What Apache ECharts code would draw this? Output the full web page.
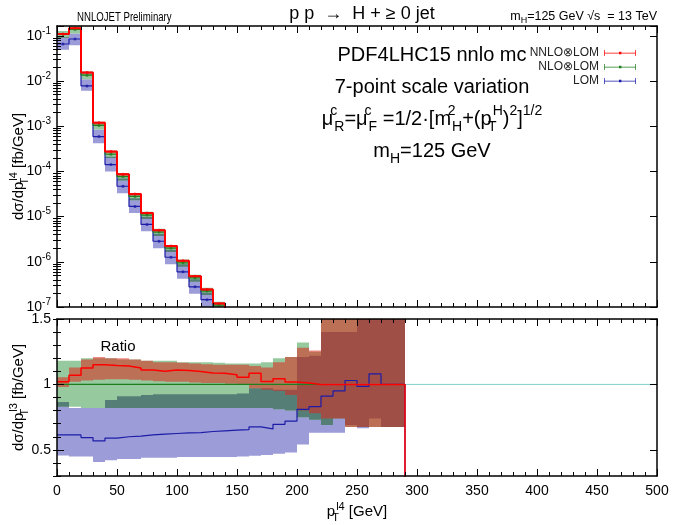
<!DOCTYPE html>
<html>
<head>
<meta charset="utf-8">
<script src="https://cdn.jsdelivr.net/npm/echarts@6/dist/echarts.min.js"></script>
<style>
  html, body { margin: 0; padding: 0; background: #fff; }
  #chart { width: 675px; height: 525px; }
</style>
</head>
<body>
<div id="chart"></div>
<script>
// ---- data ----
// upper panel: bins in pT (GeV)
const binEdgesTop = [0, 10, 20, 30, 40, 50, 60, 70, 80, 90, 100, 110, 120, 130, 140];
const nnloTop   = [0.110, 0.148, 0.0154, 1.2e-3, 2.75e-4, 8.7e-5, 3.15e-5, 1.2e-5, 5.0e-6, 2.23e-6, 1.05e-6, 4.8e-7, 2.45e-7, 1.2e-7];
const nnloTopLo = [0.106, 0.141, 0.0139, 1.08e-3, 2.5e-4, 8.0e-5, 2.9e-5, 1.11e-5, 4.66e-6, 2.04e-6, 9.7e-7, 4.47e-7, 2.27e-7, 1.11e-7];
const nnloTopHi = [0.114, 0.156, 0.0161, 1.26e-3, 2.88e-4, 9.2e-5, 3.33e-5, 1.27e-5, 5.32e-6, 2.34e-6, 1.1e-6, 5.1e-7, 2.6e-7, 1.27e-7];
const nloTop    = [0.108, 0.138, 0.0135, 1.04e-3, 2.4e-4, 7.7e-5, 2.8e-5, 1.08e-5, 4.55e-6, 2.0e-6, 9.5e-7, 4.4e-7, 2.25e-7, 1.1e-7];
const nloTopLo  = [0.089, 0.113, 0.0110, 8.5e-4, 1.97e-4, 6.3e-5, 2.3e-5, 8.9e-6, 3.7e-6, 1.64e-6, 7.8e-7, 3.6e-7, 1.85e-7, 9.0e-8];
const nloTopHi  = [0.128, 0.164, 0.0162, 1.25e-3, 2.87e-4, 9.1e-5, 3.3e-5, 1.28e-5, 5.4e-6, 2.36e-6, 1.12e-6, 5.2e-7, 2.65e-7, 1.3e-7];
const loTop     = [0.066, 0.085, 0.0078, 5.9e-4, 1.42e-4, 4.7e-5, 1.68e-5, 6.7e-6, 2.85e-6, 1.26e-6, 6.0e-7, 2.8e-7, 1.45e-7, 7.0e-8];
const loTopLo   = [0.049, 0.062, 0.0061, 4.2e-4, 1.0e-4, 3.3e-5, 1.2e-5, 4.75e-6, 2.0e-6, 8.8e-7, 4.2e-7, 1.96e-7, 1.0e-7, 4.9e-8];
const loTopHi   = [0.093, 0.113, 0.0110, 8.5e-4, 2.1e-4, 7.0e-5, 2.55e-5, 9.9e-6, 4.2e-6, 1.85e-6, 8.8e-7, 4.1e-7, 2.1e-7, 1.02e-7];

// lower panel: ratio to NLO
const binEdgesRatio = [0, 10, 20, 30, 40, 50, 60, 70, 80, 90, 100, 110, 120, 130, 140, 150,
  160, 170, 180, 190, 200, 210, 220, 230, 240, 250, 260, 270, 280, 290];
const nnloRatio   = [1.02, 1.07, 1.126, 1.15, 1.144, 1.14, 1.126, 1.11, 1.10, 1.11, 1.106, 1.098, 1.088, 1.086, 1.073,
  1.055, 1.086, 1.023, 1.043, 1.018, 1.01, 1.0, 1.0, 1.0, 1.0, 1.0, 1.0, 1.0, 1.0];
const nnloRatioLo = [0.98, 1.02, 1.03, 1.035, 1.04, 1.04, 1.035, 1.03, 1.025, 1.02, 1.02, 1.015, 1.01, 1.01, 1.005,
  1.0, 0.97, 0.96, 0.95, 0.92, 0.80, 0.78, 0.74, 0.74, 0.675, 0.675, 0.675, 0.675, 0.675];
const nnloRatioHi = [1.055, 1.13, 1.19, 1.21, 1.2, 1.2, 1.19, 1.18, 1.17, 1.17, 1.165, 1.16, 1.155, 1.15, 1.15,
  1.15, 1.14, 1.13, 1.17, 1.21, 1.28, 1.26, 1.6, 1.6, 1.6, 1.6, 1.6, 1.6, 1.6];
const nloRatio    = [1, 1, 1, 1, 1, 1, 1, 1, 1, 1, 1, 1, 1, 1, 1, 1, 1, 1, 1, 1, 1, 1];
const nloRatioLo  = [0.83, 0.83, 0.82, 0.82, 0.82, 0.82, 0.82, 0.82, 0.82, 0.82, 0.82, 0.82, 0.82, 0.82, 0.82,
  0.82, 0.82, 0.82, 0.81, 0.80, 0.75, 0.73, 0.69, 0.74, 0.675, 0.675, 0.675, 0.675, 0.675];
const nloRatioHi  = [1.18, 1.18, 1.2, 1.2, 1.2, 1.19, 1.19, 1.18, 1.18, 1.18, 1.17, 1.17, 1.17, 1.165, 1.16,
  1.16, 1.16, 1.17, 1.2, 1.21, 1.32, 1.25, 1.6, 1.6, 1.6, 1.6, 1.6, 1.6, 1.6];
const loRatio     = [0.614, 0.614, 0.594, 0.568, 0.59, 0.60, 0.605, 0.614, 0.62, 0.625, 0.63, 0.632, 0.64, 0.645, 0.65,
  0.655, 0.675, 0.66, 0.695, 0.72, 0.81, 0.83, 0.91, 0.95, 1.03, 0.985, 1.08, 1.0, 1.0];
const loRatioLo   = [0.457, 0.45, 0.45, 0.407, 0.42, 0.43, 0.43, 0.44, 0.44, 0.44, 0.445, 0.445, 0.445, 0.445, 0.445,
  0.45, 0.455, 0.46, 0.47, 0.48, 0.54, 0.63, 0.63, 0.63, 0.69, 0.665, 0.74, 0.675, 0.675];
const loRatioHi   = [0.866, 0.82, 0.82, 0.82, 0.88, 0.91, 0.91, 0.92, 0.925, 0.925, 0.925, 0.925, 0.925, 0.925, 0.925,
  0.93, 0.97, 0.97, 0.96, 0.96, 1.21, 1.22, 1.4, 1.4, 1.4, 1.6, 1.6, 1.6, 1.6];

const logTickLabels = [1e-7, 1e-6, 1e-5, 1e-4, 1e-3, 1e-2, 1e-1];
const ratioTickLabels = [0.5, 1, 1.5];
const legendNames = ['NNLO\u2297LOM', 'NLO\u2297LOM', 'LOM'];

// ---- styling ----
const F = 'Liberation Sans, Arial, sans-serif';
const RED = '#ff0000', GREEN = '#1f7f1f', BLUE = '#1c1ca8';
const RED_BAND = 'rgba(220,40,30,0.55)';
const GREEN_BAND = '#96c99e';
const BLUE_BAND = '#9c9cd8';
const OVERLAP_BAND = '#557f76';   // where the LO and NLO bands overlap
const TOP_MAX = 0.165;

// minor tick positions for the log axis (in log10 space)
const minorLog = [];
for (let d = -7; d <= -1; d++) {
  for (let k = 2; k <= 9; k++) {
    const l = Math.log10(k) + d;
    if (l < Math.log10(TOP_MAX)) minorLog.push(l);
  }
}
const ratioMinor = [];
for (let v = 3; v <= 15; v++) ratioMinor.push(v / 10);

// common part of two bands, bin by bin
function overlap(loA, hiA, loB, hiB) {
  const lo = [], hi = [];
  loA.forEach((v, i) => {
    const l = Math.max(loA[i], loB[i]);
    const h = Math.min(hiA[i], hiB[i]);
    lo.push(l);
    hi.push(Math.max(l, h));
  });
  return [lo, hi];
}
const [ovTopLo, ovTopHi] = overlap(loTopLo, loTopHi, nloTopLo, nloTopHi);
const [ovRatioLo, ovRatioHi] = overlap(loRatioLo, loRatioHi, nloRatioLo, nloRatioHi);

const rich = {
  b:   { fontSize: 15, fontFamily: F, color: '#000', lineHeight: 22 },
  sb:  { fontSize: 11, fontFamily: F, color: '#000', lineHeight: 10, verticalAlign: 'bottom' },
  sb0: { fontSize: 11, fontFamily: F, color: '#000', lineHeight: 10, verticalAlign: 'bottom', width: 1 },
  sp:  { fontSize: 11, fontFamily: F, color: '#000', lineHeight: 10, verticalAlign: 'top' }
};

function bandSeries(edges, lo, hi, color, xi, yi) {
  const items = lo.map((v, i) => [edges[i], edges[i + 1], lo[i], hi[i]]);
  return {
    type: 'custom', xAxisIndex: xi, yAxisIndex: yi, silent: true,
    data: items,
    encode: { x: [0, 1], y: [2, 3] },
    renderItem(params, api) {
      if (params.dataIndex !== 0) return null;
      const up = [], dn = [];
      items.forEach(d => {
        up.push(api.coord([d[0], d[3]]), api.coord([d[1], d[3]]));
        dn.push(api.coord([d[0], d[2]]), api.coord([d[1], d[2]]));
      });
      const cs = params.coordSys;
      return {
        type: 'polygon',
        shape: { points: up.concat(dn.reverse()) },
        style: { fill: color },
        clipPath: { type: 'rect', shape: { x: cs.x, y: cs.y, width: cs.width, height: cs.height } }
      };
    }
  };
}

function stepSeries(name, edges, vals, color, width, xi, yi, drop) {
  const pts = vals.map((v, i) => [edges[i], v]);
  pts.push([edges[vals.length], vals[vals.length - 1]]);
  if (drop != null) pts.push([edges[vals.length], drop]);
  return {
    name, type: 'line', step: 'end', xAxisIndex: xi, yAxisIndex: yi,
    data: pts, showSymbol: false, symbol: 'none', silent: true,
    itemStyle: { color }, lineStyle: { color, width }
  };
}

function dotSeries(edges, vals, color) {
  return {
    type: 'scatter', xAxisIndex: 0, yAxisIndex: 0, silent: true,
    symbolSize: 3, itemStyle: { color },
    data: vals.map((v, i) => [(edges[i] + edges[i + 1]) / 2, v])
  };
}

const xBase = (grid, pos, labels) => ({
  type: 'value', gridIndex: grid, position: pos, min: 0, max: 500, interval: 50, z: 5,
  splitLine: { show: false },
  axisLine: { onZero: false, lineStyle: { color: '#000', width: 1.5 } },
  axisTick: { inside: true, length: 7, lineStyle: { color: '#000' } },
  minorTick: { show: true, splitNumber: 5, length: 4, lineStyle: { color: '#000' } },
  axisLabel: { show: labels, color: '#000', fontSize: 14, fontFamily: F, margin: 8 }
});

const logMajor = pos => ({
  type: 'log', gridIndex: 0, position: pos, min: 1e-7, max: TOP_MAX, z: 5,
  splitLine: { show: false }, minorTick: { show: false },
  axisLine: { onZero: false, lineStyle: { color: '#000', width: 1.5 } },
  axisTick: { inside: true, length: 7, lineStyle: { color: '#000' } },
  axisLabel: { show: false }
});
const logMinor = pos => ({
  type: 'value', gridIndex: 0, position: pos, min: -7, max: Math.log10(TOP_MAX), z: 5,
  splitLine: { show: false }, axisLine: { show: false },
  axisTick: { inside: true, length: 4, customValues: minorLog, lineStyle: { color: '#000' } },
  axisLabel: { show: false }
});
const ratioMajor = pos => ({
  type: 'value', gridIndex: 1, position: pos, min: 0.3, max: 1.5, z: 5,
  splitLine: { show: false },
  axisLine: { onZero: false, lineStyle: { color: '#000', width: 1.5 } },
  axisTick: { inside: true, length: 7, customValues: ratioTickLabels, lineStyle: { color: '#000' } },
  axisLabel: { show: false }
});
const ratioMinorAxis = pos => ({
  type: 'value', gridIndex: 1, position: pos, min: 0.3, max: 1.5, z: 5,
  splitLine: { show: false }, axisLine: { show: false },
  axisTick: { inside: true, length: 4, customValues: ratioMinor, lineStyle: { color: '#000' } },
  axisLabel: { show: false }
});

const yTop = logMajor('left');
yTop.axisLabel = {
  show: true, color: '#000', margin: 6,
  formatter: v => {
    const e = Math.log10(v);
    if (Math.abs(e - Math.round(e)) > 0.01) return '';
    return '{b|10}{sp|' + Math.round(e) + '}';
  },
  rich: { b: { fontSize: 14, fontFamily: F, color: '#000', lineHeight: 20 },
          sp: { fontSize: 10, fontFamily: F, color: '#000', lineHeight: 10, verticalAlign: 'top' } }
};
Object.assign(yTop, {
  name: '{b|d\u03c3/dp}{sb0|T}{sp|l4}{b| [fb/GeV]}',
  nameLocation: 'middle', nameRotate: 90, nameGap: 27, nameMoveOverlap: false,
  nameTextStyle: { rich }
});

const yRatio = ratioMajor('left');
yRatio.axisLabel = { show: true, customValues: ratioTickLabels, color: '#000', fontSize: 14, fontFamily: F, margin: 6 };
Object.assign(yRatio, {
  name: '{b|d\u03c3/dp}{sb0|T}{sp|l3}{b| [fb/GeV]}',
  nameLocation: 'middle', nameRotate: 90, nameGap: 27, nameMoveOverlap: false,
  nameTextStyle: { rich }
});

const xBottom = xBase(1, 'bottom', true);
Object.assign(xBottom, {
  name: '{b|p}{sb0|T}{sp|l4}{b| [GeV]}',
  nameLocation: 'middle', nameGap: 25, nameMoveOverlap: false,
  nameTextStyle: { rich }
});

const option = {
  animation: false,
  backgroundColor: '#fff',
  grid: [
    { left: 57, right: 18, top: 26, height: 281, outerBoundsMode: 'none', containLabel: false },
    { left: 57, right: 18, top: 319, height: 157, outerBoundsMode: 'none', containLabel: false }
  ],
  xAxis: [xBase(0, 'bottom', false), xBase(0, 'top', false), xBottom, xBase(1, 'top', false)],
  yAxis: [yTop, logMinor('left'), logMajor('right'), logMinor('right'),
          yRatio, ratioMinorAxis('left'), ratioMajor('right'), ratioMinorAxis('right')],
  legend: {
    data: legendNames, orient: 'vertical', right: 34, top: 42, align: 'right',
    itemWidth: 32, itemHeight: 7, itemGap: 2, selectedMode: false,
    icon: 'path://M0,0.5h0.7v6h-0.7zM31.3,0.5h0.7v6h-0.7zM0,3.2h32v0.7h-32zM15,2.3h2.4v2.4h-2.4z',
    textStyle: { fontSize: 12, fontFamily: F, color: '#222' }
  },
  series: [
    // upper panel
    bandSeries(binEdgesTop, loTopLo, loTopHi, BLUE_BAND, 0, 0),
    bandSeries(binEdgesTop, nloTopLo, nloTopHi, GREEN_BAND, 0, 0),
    bandSeries(binEdgesTop, ovTopLo, ovTopHi, OVERLAP_BAND, 0, 0),
    stepSeries(legendNames[2], binEdgesTop, loTop, BLUE, 1.2, 0, 0, 1e-9),
    stepSeries(legendNames[1], binEdgesTop, nloTop, GREEN, 1.2, 0, 0, 1e-9),
    bandSeries(binEdgesTop, nnloTopLo, nnloTopHi, RED_BAND, 0, 0),
    stepSeries(legendNames[0], binEdgesTop, nnloTop, RED, 2, 0, 0, 1e-9),
    dotSeries(binEdgesTop, loTop, BLUE),
    dotSeries(binEdgesTop, nloTop, GREEN),
    dotSeries(binEdgesTop, nnloTop, RED),
    // lower panel
    { type: 'line', xAxisIndex: 2, yAxisIndex: 4, data: [[0, 1], [500, 1]], symbol: 'none', silent: true,
      lineStyle: { color: '#7fd0d0', width: 1 } },
    bandSeries(binEdgesRatio, loRatioLo, loRatioHi, BLUE_BAND, 2, 4),
    bandSeries(binEdgesRatio, nloRatioLo, nloRatioHi, GREEN_BAND, 2, 4),
    bandSeries(binEdgesRatio, ovRatioLo, ovRatioHi, OVERLAP_BAND, 2, 4),
    stepSeries(null, binEdgesRatio, loRatio, BLUE, 1.2, 2, 4, 0),
    stepSeries(null, binEdgesRatio, nloRatio, GREEN, 1.2, 2, 4, null),
    bandSeries(binEdgesRatio, nnloRatioLo, nnloRatioHi, RED_BAND, 2, 4),
    stepSeries(null, binEdgesRatio, nnloRatio, RED, 1.5, 2, 4, 0)
  ],
  graphic: [
    { type: 'text', x: 77, y: 17, scaleX: 0.74, style: { text: 'NNLOJET Preliminary', fontSize: 13, fontFamily: F, fill: '#000', verticalAlign: 'middle' } },
    { type: 'text', x: 362, y: 14, style: { text: 'p p  \u2192  H + \u2265 0 jet', fontSize: 18, fontFamily: F, fill: '#000', align: 'center', verticalAlign: 'middle' } },
    { type: 'text', x: 657, y: 17, style: {
        text: '{t|m}{s|H}{t|=125 GeV \u221as  = 13 TeV}', align: 'right', verticalAlign: 'middle',
        rich: { t: { fontSize: 12.5, fontFamily: F, color: '#000', lineHeight: 16 },
                s: { fontSize: 9, fontFamily: F, color: '#000', lineHeight: 8, verticalAlign: 'bottom' } } } },
    { type: 'text', x: 432, y: 55, style: { text: 'PDF4LHC15 nnlo mc', fontSize: 20, fontFamily: F, fill: '#000', align: 'center', verticalAlign: 'middle' } },
    { type: 'text', x: 432, y: 87, style: { text: '7-point scale variation', fontSize: 20, fontFamily: F, fill: '#000', align: 'center', verticalAlign: 'middle' } },
    { type: 'text', x: 432, y: 119, style: {
        text: '{n|\u03bc}{p0|c}{s|R}{n|=\u03bc}{p0|c}{s|F}{n| =1/2\u00b7[m}{p0|2}{s|H}{n|+(p}{s0|T}{p|H}{n|)}{p|2}{n|]}{p|1/2}',
        align: 'center', verticalAlign: 'middle',
        rich: {
          n:  { fontSize: 20, fontFamily: F, color: '#000', lineHeight: 30 },
          s:  { fontSize: 14, fontFamily: F, color: '#000', lineHeight: 14, verticalAlign: 'bottom' },
          s0: { fontSize: 14, fontFamily: F, color: '#000', lineHeight: 14, verticalAlign: 'bottom', width: 1 },
          p:  { fontSize: 14, fontFamily: F, color: '#000', lineHeight: 14, verticalAlign: 'top' },
          p0: { fontSize: 14, fontFamily: F, color: '#000', lineHeight: 14, verticalAlign: 'top', width: 1 }
        } } },
    { type: 'text', x: 432, y: 151, style: {
        text: '{n|m}{s|H}{n|=125 GeV}', align: 'center', verticalAlign: 'middle',
        rich: { n: { fontSize: 20, fontFamily: F, color: '#000', lineHeight: 30 },
                s: { fontSize: 14, fontFamily: F, color: '#000', lineHeight: 14, verticalAlign: 'bottom' } } } },
    { type: 'text', x: 118, y: 347, style: { text: 'Ratio', fontSize: 15, fontFamily: F, fill: '#000', align: 'center', verticalAlign: 'middle' } }
  ]
};

const chart = echarts.init(document.getElementById('chart'), null, { renderer: 'canvas' });
chart.setOption(option);
</script>
</body>
</html>
